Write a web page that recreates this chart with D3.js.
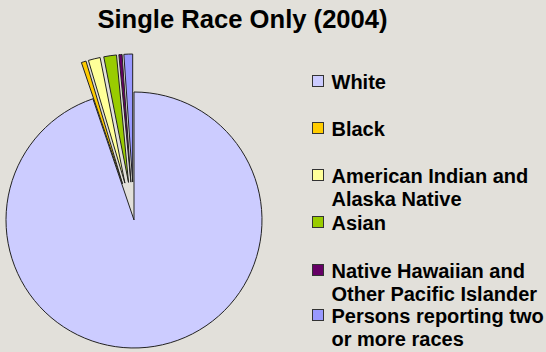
<!DOCTYPE html>
<html>
<head>
<meta charset="utf-8">
<script src="https://cdn.jsdelivr.net/npm/d3@7"></script>
<style>
  html, body { margin: 0; padding: 0; background: #e2e0da; }
  svg { display: block; font-family: "Liberation Sans", Arial, sans-serif; }
</style>
</head>
<body>
<svg id="chart" width="546" height="352"></svg>
<script>
// Population share by race, percent
const categories = ["White", "Black", "American Indian and Alaska Native", "Asian",
  "Native Hawaiian and Other Pacific Islander", "Persons reporting two or more races"];
const values = [94.8, 0.6, 1.5, 1.6, 0.4, 1.1];
const legendLines = [
  ["White"],
  ["Black"],
  ["American Indian and", "Alaska Native"],
  ["Asian"],
  ["Native Hawaiian and", "Other Pacific Islander"],
  ["Persons reporting two", "or more races"]
];
const colors = ["#ccccff", "#ffcc00", "#ffff99", "#99cc00", "#660066", "#9999ff"];
const exploded = [false, true, true, true, true, true];

const svg = d3.select("#chart");

svg.append("text")
  .attr("x", 242.5)
  .attr("y", 27.5)
  .attr("text-anchor", "middle")
  .attr("font-size", 25.6)
  .attr("font-weight", "bold")
  .text("Single Race Only (2004)");

const cx = 134, cy = 220, radius = 128, explode = 38;

const pie = d3.pie().sort(null).value(d => d.value);
const arc = d3.arc().innerRadius(0).outerRadius(radius);
const data = categories.map((c, i) => ({ name: c, value: values[i], color: colors[i], exploded: exploded[i] }));

const g = svg.append("g").attr("transform", `translate(${cx},${cy})`);
g.selectAll("path")
  .data(pie(data))
  .join("path")
  .attr("d", arc)
  .attr("fill", d => d.data.color)
  .attr("stroke", "#222")
  .attr("stroke-width", 1)
  .attr("stroke-linejoin", "round")
  .attr("transform", d => {
    if (!d.data.exploded) return null;
    const mid = (d.startAngle + d.endAngle) / 2;
    return `translate(${explode * Math.sin(mid)},${-explode * Math.cos(mid)})`;
  });

// Legend
const legend = svg.append("g");
const rowY = [89, 136, 183, 230, 278, 323];
categories.forEach((c, i) => {
  const row = legend.append("g").attr("transform", `translate(312,${rowY[i]})`);
  row.append("rect")
    .attr("x", 0.5).attr("y", -13.5)
    .attr("width", 11).attr("height", 11)
    .attr("fill", colors[i])
    .attr("stroke", "#333")
    .attr("stroke-width", 1);
  row.selectAll("text")
    .data(legendLines[i])
    .join("text")
    .attr("x", 19.5)
    .attr("y", (d, j) => j * 23.4)
    .attr("font-size", 20)
    .attr("font-weight", "bold")
    .text(d => d);
});
</script>
</body>
</html>
